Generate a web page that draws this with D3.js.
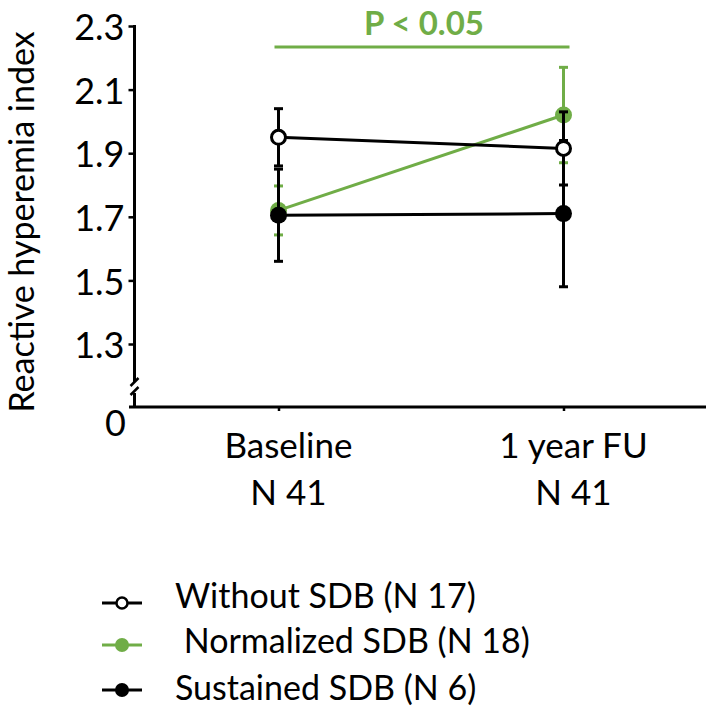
<!DOCTYPE html>
<html><head><meta charset="utf-8">
<script src="https://cdn.jsdelivr.net/npm/d3@7"></script>
<style>body{margin:0;background:#fff} svg{display:block} text{font-family:Lato,"Open Sans",sans-serif;fill:#000}</style>
</head><body>
<script>
// ---- data ----
const categories = ["Baseline", "1 year FU"];
const categoryN = ["N 41", "N 41"];
const yTicks = [1.3, 1.5, 1.7, 1.9, 2.1, 2.3];
const yTickLabels = ["1.3", "1.5", "1.7", "1.9", "2.1", "2.3"];
const zeroLabel = "0";
const yTitle = "Reactive hyperemia index";
const seriesNames = ["Without SDB (N 17)", " Normalized SDB (N 18)", "Sustained SDB (N 6)"];
const withoutMean = [1.95, 1.915];
const withoutErr = [0.09, 0.115];
const normalizedMean = [1.72, 2.02];
const normalizedErr = [0.077, 0.15];
const sustainedMean = [1.705, 1.71];
const sustainedErr = [0.145, 0.23];
const pText = "P < 0.05";

// ---- setup ----
const W = 709, H = 714;
const GREEN = "#70ad47";
const svg = d3.select("body").append("svg").attr("width", W).attr("height", H);

const y = d3.scaleLinear().domain([1.3, 2.3]).range([344, 26]);
const x = d3.scalePoint().domain(categories).range([136, 706]).padding(0.5);
const axisX = 134.5, baseY = 407;

const series = [
  {name: seriesNames[0], mean: withoutMean, err: withoutErr, stroke: "#000", fill: "#fff", r: 7},
  {name: seriesNames[1], mean: normalizedMean, err: normalizedErr, stroke: GREEN, fill: GREEN, r: 8.5},
  {name: seriesNames[2], mean: sustainedMean, err: sustainedErr, stroke: "#000", fill: "#000", r: 8.5}
];

// ---- y axis ----
const yAxis = d3.axisLeft(y).tickValues(yTicks).tickFormat((d, i) => yTickLabels[i]).tickSize(6).tickPadding(4);
const gy = svg.append("g").attr("transform", `translate(${axisX},0)`).call(yAxis);
gy.select(".domain").remove();
gy.selectAll(".tick line").attr("stroke", "#000").attr("stroke-width", 2.5);
gy.selectAll(".tick text").style("font-size", "36px").attr("dy", "0.38em");
// axis line with break
const breakTop = y(1.3) + 34, breakBot = breakTop + 17;
svg.append("line").attr("x1", axisX).attr("x2", axisX).attr("y1", y(2.3) - 1).attr("y2", breakTop + 4)
  .attr("stroke", "#000").attr("stroke-width", 3);
svg.append("line").attr("x1", axisX).attr("x2", axisX).attr("y1", breakBot - 2).attr("y2", baseY)
  .attr("stroke", "#000").attr("stroke-width", 3);
[0, 9].forEach(o => {
  svg.append("line").attr("x1", axisX - 4).attr("y1", breakTop + 8 + o).attr("x2", axisX + 4).attr("y2", breakTop + o)
    .attr("stroke", "#000").attr("stroke-width", 2.5);
});
svg.append("text").attr("x", 126).attr("y", 423).attr("dy", "0.36em").attr("text-anchor", "end")
  .style("font-size", "36px").text(zeroLabel);

// ---- x axis ----
svg.append("line").attr("x1", 129).attr("x2", 706).attr("y1", baseY).attr("y2", baseY)
  .attr("stroke", "#000").attr("stroke-width", 3);
const xAxis = d3.axisBottom(x).tickSize(4).tickFormat("");
const gx = svg.append("g").attr("transform", `translate(0,${baseY})`).call(xAxis);
gx.select(".domain").remove();
gx.selectAll(".tick line").attr("stroke", "#000").attr("stroke-width", 2.5);
categories.forEach((c, i) => {
  svg.append("text").attr("x", x(c) + 10).attr("y", 458).attr("text-anchor", "middle").style("font-size", "35px").text(c);
  svg.append("text").attr("x", x(c) + 10).attr("y", 505).attr("text-anchor", "middle").style("font-size", "35px").text(categoryN[i]);
});

// ---- y title ----
svg.append("text").attr("transform", "translate(34,222) rotate(-90)").attr("text-anchor", "middle")
  .style("font-size", "34px").text(yTitle);

// ---- significance ----
svg.append("line").attr("x1", x(categories[0]) - 4).attr("x2", x(categories[1]) + 6)
  .attr("y1", 47).attr("y2", 47).attr("stroke", GREEN).attr("stroke-width", 3);
svg.append("text").attr("x", 424).attr("y", 35).attr("text-anchor", "middle")
  .style("font-size", "33px").style("font-weight", "bold").style("fill", GREEN).text(pText);

// ---- marks ----
const line = d3.line().x((d, i) => x(categories[i])).y(d => y(d));
function drawLine(s) {
  svg.append("path").attr("d", line(s.mean)).attr("fill", "none").attr("stroke", s.stroke).attr("stroke-width", 3);
}
function drawBars(s) {
  const g = svg.append("g");
  s.mean.forEach((m, i) => {
    const cx = x(categories[i]);
    g.append("line").attr("x1", cx).attr("x2", cx).attr("y1", y(m - s.err[i])).attr("y2", y(m + s.err[i]))
      .attr("stroke", s.stroke).attr("stroke-width", 3);
    [m - s.err[i], m + s.err[i]].forEach(v => {
      g.append("line").attr("x1", cx - 4.5).attr("x2", cx + 4.5).attr("y1", y(v)).attr("y2", y(v))
        .attr("stroke", s.stroke).attr("stroke-width", 3);
    });
  });
}
function drawPoints(s) {
  svg.append("g").selectAll("circle").data(s.mean).join("circle")
    .attr("cx", (d, i) => x(categories[i])).attr("cy", d => y(d)).attr("r", s.r)
    .attr("fill", s.fill).attr("stroke", s.stroke).attr("stroke-width", s.fill === "#fff" ? 3 : 0);
}
const [sW, sN, sS] = series;
drawLine(sN); drawLine(sW); drawLine(sS);
drawBars(sN);
drawPoints(sN);
drawBars(sS);
drawBars(sW);
drawPoints(sS);
drawPoints(sW);

// ---- legend ----
const legY = [603, 645, 690];
const legText = [608, 653, 700];
series.forEach((s, i) => {
  const g = svg.append("g").attr("transform", `translate(0,${legY[i]})`);
  g.append("line").attr("x1", 102).attr("x2", 142).attr("y1", 0).attr("y2", 0).attr("stroke", s.stroke).attr("stroke-width", 3);
  g.append("circle").attr("cx", 122).attr("cy", 0).attr("r", s.fill === "#fff" ? 5.5 : 7)
    .attr("fill", s.fill).attr("stroke", s.stroke).attr("stroke-width", s.fill === "#fff" ? 2.5 : 0);
  svg.append("text").attr("x", 175).attr("y", legText[i]).style("font-size", "34px")
    .style("white-space", "pre").attr("xml:space", "preserve").text(s.name);
});
</script>
</body></html>
